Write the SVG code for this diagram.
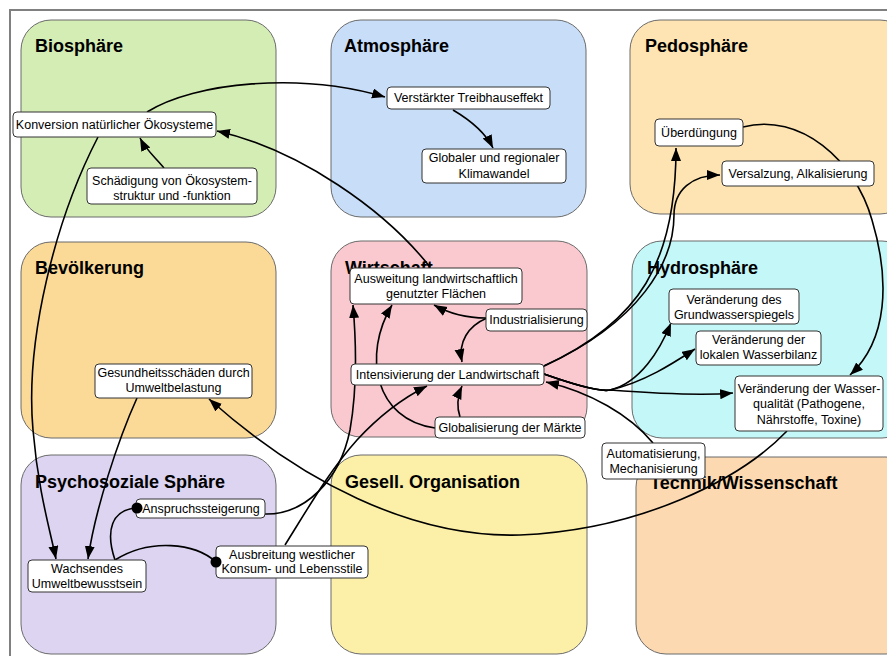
<svg xmlns="http://www.w3.org/2000/svg" width="887" height="656" viewBox="0 0 887 656">
<defs>
<style>
.reg{stroke:#6b6b6b;stroke-width:1}
.ttl{font-family:"Liberation Sans",Arial,sans-serif;font-size:18px;font-weight:bold;fill:#000}
.box{fill:#fff;stroke:#333;stroke-width:1}
.lbl{font-family:"Liberation Sans",Arial,sans-serif;font-size:12.5px;fill:#000;text-anchor:middle}
.con{fill:none;stroke:#000;stroke-width:1.6}
.arr{marker-end:url(#ah)}
.dot{fill:#000}
</style>
<marker id="ah" markerUnits="userSpaceOnUse" markerWidth="14" markerHeight="11" refX="13" refY="5" orient="auto"><path d="M0,0 L13,5 L0,10 z" fill="#000"/></marker>
</defs>
<rect width="887" height="656" fill="#fff"/>
<path d="M10,656 L10,10 L887,10" fill="none" stroke="#808080" stroke-width="2"/>
<g id="regions">
<g id="r-bio"><rect class="reg" x="21" y="20" width="255" height="197" rx="30" fill="#d4edb4"/><text class="ttl" x="35" y="52">Biosphäre</text></g>
<g id="r-atm"><rect class="reg" x="331" y="20" width="255" height="197" rx="30" fill="#c8ddf7"/><text class="ttl" x="344" y="52">Atmosphäre</text></g>
<g id="r-ped"><rect class="reg" x="630" y="20" width="280" height="194" rx="30" fill="#fde4b2"/><text class="ttl" x="645" y="52">Pedosphäre</text></g>
<g id="r-bev"><rect class="reg" x="21" y="242" width="255" height="196" rx="30" fill="#fbd997"/><text class="ttl" x="35" y="274">Bevölkerung</text></g>
<g id="r-wir"><rect class="reg" x="331" y="241" width="256" height="196" rx="30" fill="#f9c9cf"/><text class="ttl" x="345" y="274">Wirtschaft</text></g>
<g id="r-hyd"><rect class="reg" x="632" y="241" width="280" height="197" rx="30" fill="#c4f7f7"/><text class="ttl" x="647" y="274">Hydrosphäre</text></g>
<g id="r-psy"><rect class="reg" x="21" y="455" width="255" height="199" rx="30" fill="#dcd4f1"/><text class="ttl" x="35" y="488">Psychosoziale Sphäre</text></g>
<g id="r-ges"><rect class="reg" x="331" y="455" width="256" height="199" rx="30" fill="#fcf0a8"/><text class="ttl" x="345" y="488">Gesell. Organisation</text></g>
<g id="r-tec"><rect class="reg" x="636" y="457" width="280" height="197" rx="30" fill="#fcd9b1"/><text class="ttl" x="650" y="489">Technik/Wissenschaft</text></g>
</g>
<g id="connectors">
<path class="con arr" d="M147,112 C195,82 300,72 385,97"/>
<path class="con arr" d="M453,110 C470,120 485,132 493,148"/>
<path class="con arr" d="M164,168 C156,158 146,150 140,138"/>
<path class="con arr" d="M430,267 C385,210 300,150 217,131"/>
<path class="con arr" d="M98,137 C55,220 25,340 33,430 C38,490 50,530 56,559"/>
<path class="con arr" d="M137,398 C118,440 95,510 88,559"/>
<path class="con arr" d="M787,431 C740,480 640,530 520,535 C410,538 300,480 209,399"/>
<path class="con arr" d="M743,127 C800,112 855,160 872,220 C890,280 888,340 850,375"/>
<path class="con arr" d="M544,366 C640,322 676,262 676,148"/>
<path class="con arr" d="M544,366 C640,322 674,262 674,215 C674,190 692,175 720,175"/>
<path class="con arr" d="M544,374 C575,385 600,392 610,390 C640,383 660,350 671,323"/>
<path class="con arr" d="M544,374 C575,385 600,392 610,390 C645,382 675,362 695,349"/>
<path class="con arr" d="M544,374 C575,385 600,392 610,390 C650,393 700,396 733,393"/>
<path class="con arr" d="M653,443 C630,415 590,392 546,382"/>
<path class="con arr" d="M486,318 C466,318 450,314 434,305"/>
<path class="con arr" d="M487,318 C468,326 458,342 462,362"/>
<path class="con arr" d="M460,417 C456,405 458,395 462,386"/>
<path class="con arr" d="M435,428 C375,420 362,355 392,305"/>
<path class="con arr" d="M265,514 C305,515 340,480 350,430 C357,390 356,340 353,305"/>
<path class="con arr" d="M285,545 C310,505 330,470 357,440 C380,415 405,397 427,386"/>
<path class="con" d="M115,560 C105,530 112,510 136,508"/>
<path class="con" d="M115,560 C150,538 195,543 216,562"/>
</g>
<g id="n-konversion"><rect class="box" x="13" y="112" width="203" height="25" rx="4"/><text class="lbl" x="114.5" y="129">Konversion natürlicher Ökosysteme</text></g>
<g id="n-schaedigung"><rect class="box" x="87" y="168" width="170" height="36" rx="4"/><text class="lbl" x="172" y="185">Schädigung von Ökosystem-</text><text class="lbl" x="172" y="200">struktur und -funktion</text></g>
<g id="n-treibhaus"><rect class="box" x="387" y="87" width="163" height="22" rx="4"/><text class="lbl" x="468.5" y="102">Verstärkter Treibhauseffekt</text></g>
<g id="n-klima"><rect class="box" x="422" y="149" width="144" height="34" rx="4"/><text class="lbl" x="494" y="162">Globaler und regionaler</text><text class="lbl" x="494" y="178">Klimawandel</text></g>
<g id="n-ueberduengung"><rect class="box" x="655" y="119" width="88" height="27" rx="4"/><text class="lbl" x="699" y="137">Überdüngung</text></g>
<g id="n-versalzung"><rect class="box" x="722" y="161" width="152" height="25" rx="4"/><text class="lbl" x="798" y="178">Versalzung, Alkalisierung</text></g>
<g id="n-gesundheit"><rect class="box" x="95" y="364" width="157" height="34" rx="4"/><text class="lbl" x="173.5" y="377">Gesundheitsschäden durch</text><text class="lbl" x="173.5" y="392">Umweltbelastung</text></g>
<g id="n-ausweitung"><rect class="box" x="350" y="268" width="172" height="36" rx="4"/><text class="lbl" x="436" y="283">Ausweitung landwirtschaftlich</text><text class="lbl" x="436" y="298">genutzter Flächen</text></g>
<g id="n-industrialisierung"><rect class="box" x="486" y="309" width="101" height="22" rx="4"/><text class="lbl" x="536.5" y="324">Industrialisierung</text></g>
<g id="n-intensivierung"><rect class="box" x="351" y="364" width="193" height="21" rx="4"/><text class="lbl" x="447.5" y="379">Intensivierung der Landwirtschaft</text></g>
<g id="n-globalisierung"><rect class="box" x="435" y="417" width="150" height="21" rx="4"/><text class="lbl" x="510" y="432">Globalisierung der Märkte</text></g>
<g id="n-grundwasser"><rect class="box" x="669" y="289" width="130" height="35" rx="4"/><text class="lbl" x="734" y="304">Veränderung des</text><text class="lbl" x="734" y="319">Grundwasserspiegels</text></g>
<g id="n-wasserbilanz"><rect class="box" x="696" y="331" width="125" height="34" rx="4"/><text class="lbl" x="758.5" y="344">Veränderung der</text><text class="lbl" x="758.5" y="359">lokalen Wasserbilanz</text></g>
<g id="n-wasserqualitaet"><rect class="box" x="735" y="376" width="148" height="55" rx="4"/><text class="lbl" x="809" y="393">Veränderung der Wasser-</text><text class="lbl" x="809" y="408">qualität (Pathogene,</text><text class="lbl" x="809" y="424">Nährstoffe, Toxine)</text></g>
<g id="n-automatisierung"><rect class="box" x="602" y="443" width="103" height="36" rx="4"/><text class="lbl" x="653.5" y="458">Automatisierung,</text><text class="lbl" x="653.5" y="473">Mechanisierung</text></g>
<g id="n-umweltbewusstsein"><rect class="box" x="28" y="560" width="118" height="32" rx="4"/><text class="lbl" x="87" y="573">Wachsendes</text><text class="lbl" x="87" y="588">Umweltbewusstsein</text></g>
<g id="n-anspruch"><rect class="box" x="136" y="499" width="129" height="19" rx="4"/><text class="lbl" x="201" y="513">Anspruchssteigerung</text></g>
<g id="n-ausbreitung"><rect class="box" x="216" y="546" width="152" height="32" rx="4"/><text class="lbl" x="292" y="559">Ausbreitung westlicher</text><text class="lbl" x="292" y="573">Konsum- und Lebensstile</text></g>
<g id="connector-ends">
<circle class="dot" cx="137" cy="508" r="5.5"/>
<circle class="dot" cx="216" cy="562" r="5.5"/>
</g>
</svg>
